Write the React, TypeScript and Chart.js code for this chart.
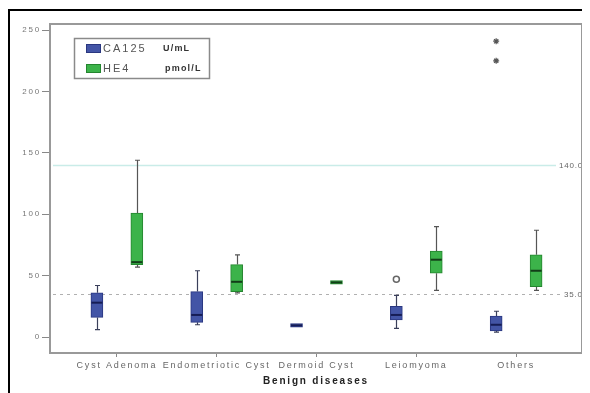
import React, { useEffect, useRef } from "react";
import { Chart, registerables } from "chart.js";

Chart.register(...registerables);

const categories = ["Cyst Adenoma", "Endometriotic Cyst", "Dermoid Cyst", "Leiomyoma", "Others"];
const yTickValues = [0, 50, 100, 150, 200, 250];

const ca125Min = [6, 10, 8, 7, 4];
const ca125Q1 = [16, 12, 8, 14, 5];
const ca125Median = [28, 18, 9.5, 18, 10];
const ca125Q3 = [36, 37, 11, 25, 17];
const ca125Max = [42, 54, 11, 34, 21];

const he4Min = [57, 36, 43, 38, 38];
const he4Q1 = [59, 37, 43, 52, 41];
const he4Median = [61, 45, 44.5, 63, 54];
const he4Q3 = [101, 59, 46, 70, 67];
const he4Max = [144, 67, 46, 90, 87];

const ca125OutlierCat = [4];
const ca125OutlierVal = [47];
const ca125ExtremeCat = [5, 5];
const ca125ExtremeVal = [241, 225];

const refHigh = 140;
const refLow = 35;

const BLUE = "#4355a6";
const BLUE_EDGE = "#2a3780";
const BLUE_MED = "#161d55";
const GREEN = "#3cb34a";
const GREEN_EDGE = "#24852f";
const GREEN_MED = "#123d18";
const OFF = 0.2;
const FONT = "Liberation Sans, Arial, sans-serif";

const boxPlugin = {
  id: "boxPlugin",
  beforeDraw(chart: any) {
    (chart.ctx as any).letterSpacing = "1.8px";
  },
  beforeDatasetsDraw(chart: any) {
    const { ctx, chartArea: a, scales } = chart;
    const x = scales.x, y = scales.y;
    ctx.save();
    // reference lines
    ctx.lineWidth = 1.5;
    ctx.strokeStyle = "#c9ece8";
    const yh = Math.round(y.getPixelForValue(refHigh)) + 0.5;
    ctx.beginPath();
    ctx.moveTo(a.left + 3, yh);
    ctx.lineTo(a.right - 26, yh);
    ctx.stroke();
    const yl = Math.round(y.getPixelForValue(refLow)) + 0.5;
    ctx.strokeStyle = "#b0b0b0";
    ctx.lineWidth = 1.2;
    ctx.setLineDash([3, 4]);
    ctx.beginPath();
    ctx.moveTo(a.left + 3, yl);
    ctx.lineTo(a.right - 20, yl);
    ctx.stroke();
    ctx.setLineDash([]);
    ctx.fillStyle = "#666";
    ctx.font = `8px ${FONT}`;
    ctx.letterSpacing = "0.8px";
    ctx.textBaseline = "middle";
    ctx.textAlign = "left";
    ctx.fillText(refHigh.toFixed(1), a.right - 23, yh);
    ctx.fillText(refLow.toFixed(1), a.right - 18, yl);

    // whiskers
    const drawWhiskers = (mins: number[], q1: number[], q3: number[], maxs: number[], off: number, color: string) => {
      ctx.strokeStyle = color;
      ctx.lineWidth = 1.2;
      for (let i = 0; i < categories.length; i++) {
        if (maxs[i] <= q3[i] && mins[i] >= q1[i]) continue;
        const px = Math.round(x.getPixelForValue(i + 1 + off)) + 0.5;
        const pMax = y.getPixelForValue(maxs[i]);
        const pQ3 = y.getPixelForValue(q3[i]);
        const pQ1 = y.getPixelForValue(q1[i]);
        const pMin = y.getPixelForValue(mins[i]);
        ctx.beginPath();
        ctx.moveTo(px, pMax);
        ctx.lineTo(px, pQ3);
        ctx.moveTo(px, pQ1);
        ctx.lineTo(px, pMin);
        ctx.moveTo(px - 2.5, pMax);
        ctx.lineTo(px + 2.5, pMax);
        ctx.moveTo(px - 2.5, pMin);
        ctx.lineTo(px + 2.5, pMin);
        ctx.stroke();
      }
    };
    drawWhiskers(ca125Min, ca125Q1, ca125Q3, ca125Max, -OFF, "#3a3f5a");
    drawWhiskers(he4Min, he4Q1, he4Q3, he4Max, OFF, "#555");
    ctx.restore();
  },
  afterDatasetsDraw(chart: any) {
    const { ctx, scales } = chart;
    const x = scales.x, y = scales.y;
    ctx.save();
    const drawMed = (med: number[], off: number, color: string) => {
      ctx.strokeStyle = color;
      ctx.lineWidth = 2;
      for (let i = 0; i < categories.length; i++) {
        const px = x.getPixelForValue(i + 1 + off);
        const py = y.getPixelForValue(med[i]);
        ctx.beginPath();
        ctx.moveTo(px - 5.5, py);
        ctx.lineTo(px + 5.5, py);
        ctx.stroke();
      }
    };
    drawMed(ca125Median, -OFF, BLUE_MED);
    drawMed(he4Median, OFF, GREEN_MED);
    ctx.restore();
  },
  afterDraw(chart: any) {
    const { ctx, chartArea: a } = chart;
    ctx.save();
    // outer frame
    ctx.strokeStyle = "#000";
    ctx.lineWidth = 2;
    ctx.beginPath();
    ctx.moveTo(1, chart.height);
    ctx.lineTo(1, 2);
    ctx.lineTo(chart.width, 2);
    ctx.stroke();
    // plot border
    ctx.strokeStyle = "#999";
    ctx.lineWidth = 2;
    ctx.strokeRect(a.left, a.top, a.right - a.left, a.bottom - a.top);
    // legend
    const lx = 66, ly = 30, lw = 135, lh = 40;
    ctx.strokeStyle = "#8a8a8a";
    ctx.lineWidth = 1.5;
    ctx.strokeRect(lx + 0.5, ly + 0.5, lw, lh);
    const rows = [
      { fill: BLUE, edge: BLUE_EDGE, name: "CA125", unit: "U/mL", y: 40 },
      { fill: GREEN, edge: GREEN_EDGE, name: "HE4", unit: "pmol/L", y: 60 },
    ];
    rows.forEach((r) => {
      ctx.fillStyle = r.fill;
      ctx.fillRect(78, r.y - 4, 15, 9);
      ctx.strokeStyle = r.edge;
      ctx.lineWidth = 1;
      ctx.strokeRect(78.5, r.y - 3.5, 14, 8);
      ctx.fillStyle = "#555";
      ctx.font = `11px ${FONT}`;
      ctx.letterSpacing = "2px";
      ctx.textAlign = "left";
      ctx.textBaseline = "middle";
      ctx.fillText(r.name, 95, r.y + 1);
      ctx.fillStyle = "#333";
      ctx.font = `bold 9px ${FONT}`;
      ctx.letterSpacing = "1.2px";
      ctx.fillText(r.unit, r.name === "CA125" ? 155 : 157, r.y + 1);
    });
    ctx.restore();
  },
};

export default function App() {
  const ref = useRef<HTMLCanvasElement | null>(null);
  useEffect(() => {
    if (!ref.current) return;
    const chart = new Chart(ref.current, {
      type: "bar",
      data: {
        datasets: [
          {
            label: "CA125",
            data: categories.map((_, i) => ({ x: i + 1 - OFF, y: [ca125Q1[i], ca125Q3[i]] })) as any,
            backgroundColor: BLUE,
            borderColor: BLUE_EDGE,
            borderWidth: 1,
            borderSkipped: false,
            barThickness: 12,
            grouped: false,
          } as any,
          {
            label: "HE4",
            data: categories.map((_, i) => ({ x: i + 1 + OFF, y: [he4Q1[i], he4Q3[i]] })) as any,
            backgroundColor: GREEN,
            borderColor: GREEN_EDGE,
            borderWidth: 1,
            borderSkipped: false,
            barThickness: 12,
            grouped: false,
          } as any,
          {
            type: "scatter",
            label: "outliers",
            data: ca125OutlierCat.map((c, i) => ({ x: c - OFF, y: ca125OutlierVal[i] })),
            pointStyle: "circle",
            pointRadius: 3,
            backgroundColor: "rgba(0,0,0,0)",
            borderColor: "#666",
            borderWidth: 1.5,
          } as any,
          {
            type: "scatter",
            label: "extremes",
            data: ca125ExtremeCat.map((c, i) => ({ x: c - OFF, y: ca125ExtremeVal[i] })),
            pointStyle: "star",
            pointRadius: 3,
            backgroundColor: "#555",
            borderColor: "#555",
            borderWidth: 1.2,
          } as any,
        ],
      },
      options: {
        animation: false,
        responsive: false,
        devicePixelRatio: 1,
        layout: { padding: { top: 16, right: 8, left: 0, bottom: 0 } },
        plugins: { legend: { display: false }, tooltip: { enabled: false } },
        scales: {
          x: {
            type: "linear",
            min: 0.33,
            max: 5.66,
            offset: false,
            afterBuildTicks: (s: any) => {
              s.ticks = categories.map((_, i) => ({ value: i + 1 }));
            },
            afterFit: (s: any) => {
              s.height = 40;
            },
            ticks: {
              autoSkip: false,
              maxRotation: 0,
              padding: 3,
              color: "#666",
              font: { family: FONT, size: 9 },
              callback: (v: any) => categories[Math.round(Number(v)) - 1] ?? "",
            },
            grid: { offset: false, drawOnChartArea: false, tickLength: 4, color: "#888", lineWidth: 1 },
            border: { color: "#999", width: 2 },
            title: {
              display: true,
              text: "Benign diseases",
              color: "#222",
              font: { family: FONT, size: 10, weight: "bold" },
              padding: { top: 0, bottom: 6 },
            },
          },
          y: {
            type: "linear",
            min: -13,
            max: 255,
            afterBuildTicks: (s: any) => {
              s.ticks = yTickValues.map((v) => ({ value: v }));
            },
            afterFit: (s: any) => {
              s.width = 42;
            },
            ticks: {
              padding: 1,
              color: "#777",
              font: { family: FONT, size: 8 },
            },
            grid: { drawOnChartArea: false, tickLength: 8, color: "#888", lineWidth: 1 },
            border: { color: "#999", width: 2 },
          },
        },
      },
      plugins: [boxPlugin],
    } as any);
    return () => chart.destroy();
  }, []);
  return (
    <div style={{ width: 582, height: 385 }}>
      <canvas ref={ref} width={582} height={385} style={{ display: "block" }} />
    </div>
  );
}
